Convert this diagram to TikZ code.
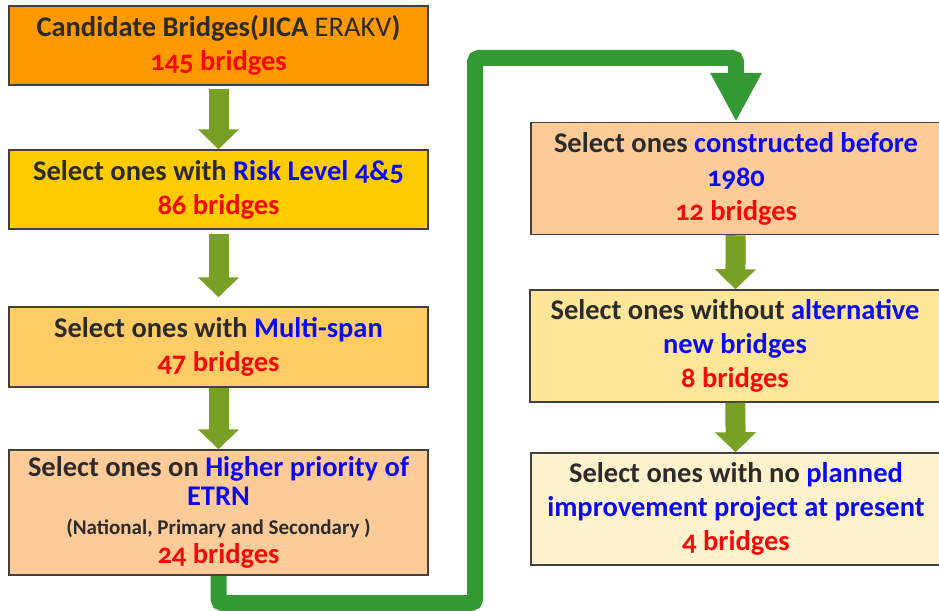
\documentclass[tikz,border=0pt]{standalone}
\usepackage{fontspec}
\setmainfont{Carlito}[Numbers=OldStyle]
\usetikzlibrary{arrows.meta}
\definecolor{boxline}{HTML}{404040}
\definecolor{txtgray}{HTML}{2B2B2B}
\definecolor{critblue}{HTML}{0A0AF5}
\definecolor{nbrred}{HTML}{F50A0A}
\definecolor{stepolive}{HTML}{78A024}
\definecolor{jumpgreen}{HTML}{339933}
\definecolor{fillA}{HTML}{FF9900}
\definecolor{fillB}{HTML}{FFCC00}
\definecolor{fillC}{HTML}{FFCC66}
\definecolor{fillD}{HTML}{FFCC99}
\definecolor{fillE}{HTML}{FFE699}
\definecolor{fillF}{HTML}{FFF2CC}
\newcommand{\crit}[1]{\textcolor{critblue}{#1}}
\newcommand{\nbr}[1]{\textcolor{nbrred}{#1}}
\tikzset{stage/.style={draw=boxline, line width=1.5pt, inner sep=0pt, align=center,
		text=txtgray, font=\fontsize{28.5}{34}\selectfont\bfseries},
	leftstage/.style={stage, minimum width=419pt},
	rightstage/.style={stage, minimum width=410pt, minimum height=112pt},
	down/.style={draw=stepolive, line width=20pt, -{Triangle[width=40pt,length=20pt]}},
	jump/.style={draw=jumpgreen, line width=16pt, rounded corners=4pt,
		-{Triangle[width=48pt,length=49pt]}}}

\begin{document}
\begin{tikzpicture}[x=1pt, y=-1pt]
	\useasboundingbox (0,0) rectangle (939,610);
	\node[leftstage, fill=fillA, minimum height=79pt] (c145) at (218.5,45.5)
		{Candidate Bridges(JICA {\mdseries ERAKV})\\ \nbr{145 bridges}};
	\node[leftstage, fill=fillB, minimum height=79pt] (c86) at (218.5,189.5)
		{Select ones with \crit{Risk Level 4\&5}\\ \nbr{86 bridges}};
	\node[leftstage, fill=fillC, minimum height=80pt] (c47) at (218.5,347)
		{Select ones with \crit{Multi-span}\\ \nbr{47 bridges}};
	\node[leftstage, fill=fillD, minimum height=125pt,
		font=\fontsize{28.5}{29}\selectfont\bfseries] (c24) at (218.5,512.5)
		{Select ones on \crit{Higher priority of}\\ \crit{ETRN}\\
		{\fontsize{21}{27}\selectfont(National, Primary and Secondary )}\\ \nbr{24 bridges}};
	\node[rightstage, fill=fillD] (c12) at (736,178.5)
		{Select ones \crit{constructed before}\\ \crit{1980}\\ \nbr{12 bridges}};
	\node[rightstage, fill=fillE] (c8) at (735,346)
		{Select ones without \crit{alternative}\\ \crit{new bridges}\\ \nbr{8 bridges}};
	\node[rightstage, fill=fillF] (c4) at (736,509)
		{Select ones with no \crit{planned}\\ \crit{improvement project at present}\\ \nbr{4 bridges}};
	\coordinate (low) at (475,603);
	\coordinate (high) at (475,58);
	\draw[down, shorten <=3pt] (c145) -- (c86);
	\draw[down, shorten <=4pt, shorten >=9pt] (c86) -- (c47);
	\draw[down] (c47) -- (c24);
	\draw[down] (c12) -- (c8);
	\draw[down] (c8) -- (c4);
	\draw[jump] (c24.south) |- (low) -- (high) -| (c12.north);
\end{tikzpicture}
\end{document}
